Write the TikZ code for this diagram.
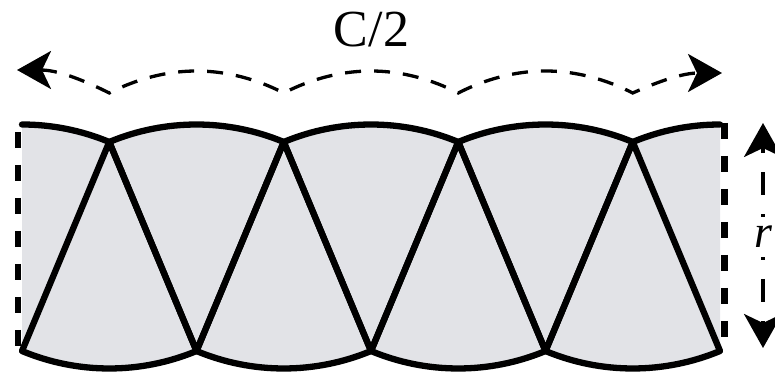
\documentclass[tikz,border=0pt]{standalone}
\usepackage{fontspec}
\setmainfont{Liberation Serif}
\usetikzlibrary{arrows.meta}
\definecolor{sectorgray}{RGB}{226,227,231}
\begin{document}
\begin{tikzpicture}[x=1pt,y=1pt,
  edge/.style={draw=black, line width=6.3pt, line join=round, line cap=round},
  cutedge/.style={draw=black, line width=6.5pt, dash pattern=on 16.5pt off 16.5pt},
  measure/.style={draw=black, line width=3.3pt, dash pattern=on 16pt off 13pt},
  vmeasure/.style={draw=black, line width=3.3pt, dash pattern=on 23pt off 19pt},
  bigtip/.tip={Stealth[length=34pt, width=38pt, inset=9pt]}]
\useasboundingbox (0,0) rectangle (775,374);
\def\R{226.5}
\def\a{22.66}
% ---- fills ----
\foreach \j in {0,...,3}
  \fill[sectorgray] ({109.25+174.5*\j},232) -- ++(270-\a:\R)
     arc[start angle=270-\a, end angle=270+\a, radius=\R] -- cycle;
\foreach \i in {1,2,3}
  \fill[sectorgray] ({22+174.5*\i},23) -- ++(90+\a:\R)
     arc[start angle=90+\a, end angle=90-\a, radius=\R] -- cycle;
\fill[sectorgray] (22,23) -- ++(90:\R) arc[start angle=90, end angle=90-\a, radius=\R] -- cycle;
\fill[sectorgray] (720,23) -- ++(90:\R) arc[start angle=90, end angle=90+\a, radius=\R] -- cycle;
% ---- outlines ----
\foreach \j in {0,...,3}
  \path[edge] ({109.25+174.5*\j},232) -- ++(270-\a:\R)
     arc[start angle=270-\a, end angle=270+\a, radius=\R] -- cycle;
\foreach \i in {1,2,3}
  \path[edge] ({22+174.5*\i},23) -- ++(90+\a:\R)
     arc[start angle=90+\a, end angle=90-\a, radius=\R] -- cycle;
\path[edge] (22,{23+\R}) arc[start angle=90, end angle=90-\a, radius=\R];
\path[edge] (720,{23+\R}) arc[start angle=90, end angle=90+\a, radius=\R];
% ---- dashed cut edges ----
\coordinate (lt) at (18,242);
\coordinate (lb) at (18,24);
\coordinate (rt) at (724.5,251);
\coordinate (rb) at (724.5,24);
\path[cutedge] (lt) -- (lb);
\path[cutedge] (rt) -- (rb);
% ---- C/2 measure ----
\coordinate (wl) at (17,304);
\coordinate (wr) at (722,301);
\path[measure, {bigtip}-{bigtip}] (wl)
  parabola[bend at start] (109.25,281)
  parabola bend (196.5,303) (283.75,281)
  parabola bend (371,303) (458.25,281)
  parabola bend (545.5,303) (632.75,281)
  parabola[bend at end] (wr);
\node[font=\fontsize{52}{60}\selectfont, anchor=base, inner sep=0pt] (clab) at (371.5,327) {C/2};
% ---- r measure ----
\coordinate (rc) at (763,137);
\coordinate (rtop) at (763,251);
\coordinate (rbot) at (763,26);
\path[vmeasure, -{bigtip}] (rc) -- (rtop);
\path[vmeasure, -{bigtip}] (rc) -- (rbot);
\node[fill=white, inner xsep=1pt, inner ysep=9pt, font=\itshape\fontsize{46}{50}\selectfont] (rlab) at (763.5,137) {r};
\end{tikzpicture}
\end{document}
